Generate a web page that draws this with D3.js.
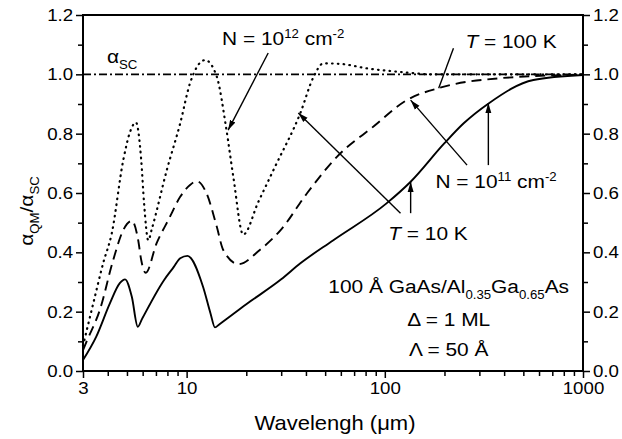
<!DOCTYPE html>
<html>
<head>
<meta charset="utf-8">
<script src="https://cdn.jsdelivr.net/npm/d3@7"></script>
<style>
  body { margin: 0; background: #fff; }
  svg text { font-family: "Liberation Sans", Arial, Helvetica, sans-serif; fill: #000; }
</style>
</head>
<body>
<svg id="chart" width="622" height="439"></svg>
<script>
// N = 1e11 cm^-2, T = 10 K (solid)
const wlSolid = [3, 3.5, 4.1, 4.6, 4.89, 5.29, 5.67, 5.95, 7.7, 8.6, 9.28, 10.1, 12.1, 13.2, 13.9,
                 14.6, 20, 30, 37.5, 55, 102, 135, 200, 250, 334, 562, 1000];
const valSolid = [0.037, 0.116, 0.228, 0.296, 0.309, 0.25, 0.149, 0.175, 0.307, 0.35, 0.38, 0.388, 0.284, 0.194, 0.147,
                  0.157, 0.225, 0.309, 0.363, 0.441, 0.565, 0.638, 0.768, 0.835, 0.902, 0.981, 0.998];

// N = 1e11 cm^-2, T = 100 K (dashed)
const wlDash = [3, 3.13, 3.65, 4.26, 4.79, 5.29, 5.7, 5.9, 6.22, 7.05, 8.1, 9.28, 10.4, 11.25, 12.6, 14.2,
                15.3, 18.3, 23.4, 29.8, 40.5, 57.3, 88, 129, 190, 382, 1000];
const valDash = [0.07, 0.1, 0.206, 0.374, 0.475, 0.506, 0.44, 0.374, 0.331, 0.43, 0.51, 0.587, 0.627, 0.64, 0.599, 0.486,
                 0.408, 0.36, 0.408, 0.475, 0.599, 0.722, 0.825, 0.913, 0.955, 0.987, 0.999];

// N = 1e12 cm^-2, T = 10 K (dotted)
const wlDot = [3, 3.38, 3.79, 4.19, 4.79, 5.19, 5.55, 5.9, 6.1, 6.41, 6.65, 7.94, 9.28, 10.4, 12.4, 14.2, 15.8,
               17.2, 19.3, 23, 28, 37.5, 43.6, 49, 60, 81.6, 120, 175, 300, 1000];
const valDot = [0.085, 0.228, 0.363, 0.464, 0.711, 0.807, 0.838, 0.711, 0.565, 0.44, 0.475, 0.677, 0.835, 0.97, 1.048, 0.992, 0.823,
                0.655, 0.46, 0.57, 0.69, 0.87, 0.99, 1.037, 1.035, 1.02, 1.008, 1.0, 1.0, 1.0];

const alphaSC = 1.0;

const xMajor = [3, 10, 100, 1000];
const xMinor = [4, 5, 6, 7, 8, 9, 20, 30, 40, 50, 60, 70, 80, 90, 200, 300, 400, 500, 600, 700, 800, 900];
const yMajor = [0, 0.2, 0.4, 0.6, 0.8, 1.0, 1.2];
const yMinor = [0.1, 0.3, 0.5, 0.7, 0.9, 1.1];

const svg = d3.select('#chart');
const mLeft = 83, mRight = 583, mTop = 15, mBottom = 371;
const stretch = 1.1;   // the original lettering is a bit wider than Liberation Sans

const xs = d3.scaleLog().domain([3, 1000]).range([mLeft, mRight]);
const ys = d3.scaleLinear().domain([0, 1.2]).range([mBottom, mTop]);

// arrowhead
svg.append('defs').append('marker')
    .attr('id', 'head')
    .attr('viewBox', '0 0 10 10')
    .attr('refX', 10).attr('refY', 5)
    .attr('markerWidth', 10).attr('markerHeight', 10)
    .attr('markerUnits', 'userSpaceOnUse')
    .attr('orient', 'auto')
    .append('path').attr('d', 'M0,2 L10,5 L0,8 Z').attr('fill', '#000');

function styleAxis(g) {
    g.select('.domain').remove();
    g.selectAll('line').attr('stroke', '#000').attr('stroke-width', 1.5);
    g.selectAll('text').style('font-size', '17px')
        .attr('transform', 'scale(' + stretch + ',1)');
}

// y axes
svg.append('g').attr('transform', 'translate(' + mLeft + ',0)')
    .call(d3.axisLeft(ys).tickValues(yMajor).tickFormat(d3.format('.1f')).tickSize(7).tickPadding(2))
    .call(styleAxis);
svg.append('g').attr('transform', 'translate(' + mLeft + ',0)')
    .call(d3.axisLeft(ys).tickValues(yMinor).tickFormat('').tickSize(5))
    .call(styleAxis);
svg.append('g').attr('transform', 'translate(' + mRight + ',0)')
    .call(d3.axisRight(ys).tickValues(yMajor).tickFormat(d3.format('.1f')).tickSize(7).tickPadding(2))
    .call(styleAxis);
svg.append('g').attr('transform', 'translate(' + mRight + ',0)')
    .call(d3.axisRight(ys).tickValues(yMinor).tickFormat('').tickSize(5))
    .call(styleAxis);

// x axis
svg.append('g').attr('transform', 'translate(0,' + mBottom + ')')
    .call(d3.axisBottom(xs).tickValues(xMajor).tickFormat(d3.format('d')).tickSize(7).tickPadding(4))
    .call(styleAxis);
svg.append('g').attr('transform', 'translate(0,' + mBottom + ')')
    .call(d3.axisBottom(xs).tickValues(xMinor).tickFormat('').tickSize(5))
    .call(styleAxis);

// frame
svg.append('rect')
    .attr('x', mLeft).attr('y', mTop)
    .attr('width', mRight - mLeft).attr('height', mBottom - mTop)
    .attr('fill', 'none').attr('stroke', '#000').attr('stroke-width', 2);

// reference line alpha_SC
svg.append('line')
    .attr('x1', xs(3)).attr('x2', xs(1000))
    .attr('y1', ys(alphaSC)).attr('y2', ys(alphaSC))
    .attr('stroke', '#000').attr('stroke-width', 1.7)
    .attr('stroke-dasharray', '8,3,2,3');

const line = d3.line()
    .x(function (d) { return xs(d[0]); })
    .y(function (d) { return ys(d[1]); })
    .curve(d3.curveMonotoneX);

const series = [
    {wl: wlDot, val: valDot, dash: '0.6,5.2', cap: 'round', w: 2.2},
    {wl: wlDash, val: valDash, dash: '10,6', cap: 'butt', w: 1.9},
    {wl: wlSolid, val: valSolid, dash: null, cap: 'butt', w: 1.9}
];

series.forEach(function (s) {
    svg.append('path')
        .datum(d3.zip(s.wl, s.val))
        .attr('d', line)
        .attr('fill', 'none')
        .attr('stroke', '#000')
        .attr('stroke-width', s.w)
        .attr('stroke-linecap', s.cap)
        .attr('stroke-dasharray', s.dash);
});

// arrows [from wl, from val, to wl, to val, head]
const arrows = [
    [25.8, 1.072, 16.2, 0.812, true],
    [222, 1.088, 187, 0.953, false],
    [260, 0.694, 135, 0.913, true],
    [333, 0.694, 333, 0.903, true],
    [120, 0.532, 36.6, 0.87, true],
    [135, 0.532, 135, 0.637, true]
];
arrows.forEach(function (a) {
    svg.append('line')
        .attr('x1', xs(a[0])).attr('y1', ys(a[1]))
        .attr('x2', xs(a[2])).attr('y2', ys(a[3]))
        .attr('stroke', '#000').attr('stroke-width', 1.4)
        .attr('marker-end', a[4] ? 'url(#head)' : null);
});

// labels
function label(wl, v, anchor, size, parts) {
    var t = svg.append('text')
        .attr('transform', 'translate(' + xs(wl) + ',' + ys(v) + ') scale(' + stretch + ',1)')
        .attr('text-anchor', anchor)
        .style('font-size', size + 'px');
    var shift = 0;
    parts.forEach(function (p) {
        var target = p[1] === 'sup' ? -7 : p[1] === 'sub' ? 6 : 0;
        var ts = t.append('tspan').attr('dy', target - shift).text(p[0]);
        if (p[1] !== 'n') ts.style('font-size', Math.round(size * 0.65) + 'px');
        if (p[1] === 'i') ts.style('font-style', 'italic').style('font-size', size + 'px');
        shift = target;
    });
    return t;
}

label(3.96, 1.038, 'start', 19, [['α', 'n'], ['SC', 'sub']]);
label(15.1, 1.099, 'start', 19, [['N = 10', 'n'], ['12', 'sup'], [' cm', 'n'], ['-2', 'sup']]);
label(255, 1.089, 'start', 19, [['T', 'i'], [' = 100 K', 'n']]);
label(180, 0.617, 'start', 19, [['N = 10', 'n'], ['11', 'sup'], [' cm', 'n'], ['-2', 'sup']]);
label(104, 0.4415, 'start', 19, [['T', 'i'], [' = 10 K', 'n']]);
label(210, 0.263, 'middle', 19, [['100 Å GaAs/Al', 'n'], ['0.35', 'sub'], ['Ga', 'n'], ['0.65', 'sub'], ['As', 'n']]);
label(210, 0.152, 'middle', 19, [['Δ = 1 ML', 'n']]);
label(210, 0.05, 'middle', 19, [['Λ = 50 Å', 'n']]);

// axis titles
svg.append('text')
    .attr('transform', 'translate(' + ((mLeft + mRight) / 2 + 2) + ',430) scale(' + stretch + ',1)')
    .attr('text-anchor', 'middle')
    .style('font-size', '20px')
    .text('Wavelengh (μm)');

const yt = svg.append('text')
    .attr('transform', 'translate(33,211) rotate(-90) scale(' + stretch + ',1)')
    .attr('text-anchor', 'middle')
    .style('font-size', '19px');
yt.append('tspan').text('α');
yt.append('tspan').attr('dy', 6).style('font-size', '12px').text('QM');
yt.append('tspan').attr('dy', -6).text('/α');
yt.append('tspan').attr('dy', 6).style('font-size', '12px').text('SC');
</script>
</body>
</html>
